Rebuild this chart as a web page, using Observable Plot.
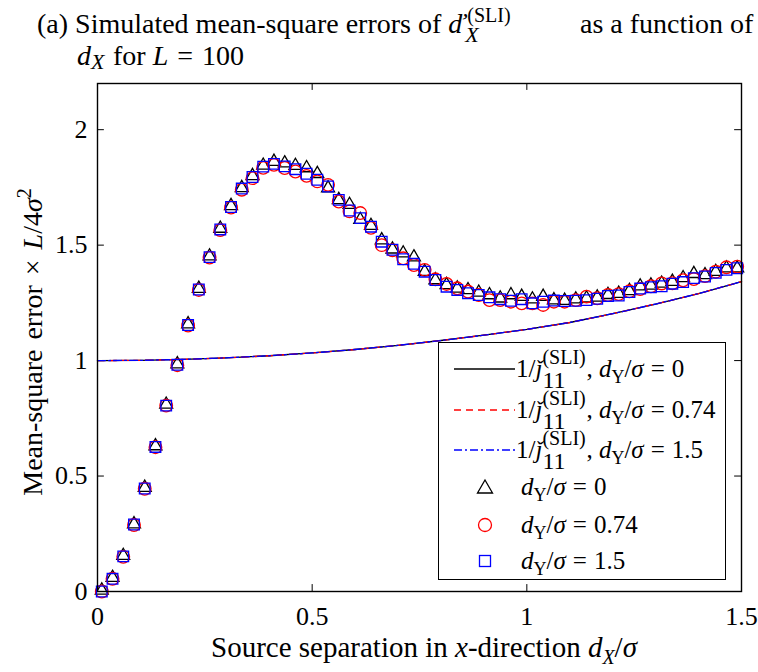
<!DOCTYPE html>
<html>
<head>
<meta charset="utf-8">
<script src="https://cdn.jsdelivr.net/npm/d3@7"></script>
<script src="https://cdn.jsdelivr.net/npm/@observablehq/plot@0.6"></script>
<style>
  body { margin: 0; background: white; }
  #wrap { position: relative; width: 758px; height: 672px; font-family: "Liberation Serif", serif; color: black; overflow: hidden; }
  .abs { position: absolute; white-space: nowrap; }
  .stk { display: inline-block; position: relative; vertical-align: baseline; }
  .stk > span { position: absolute; left: 0; line-height: 0.8; }
  .legrow { position: absolute; height: 40px; display: flex; align-items: center; white-space: nowrap; font-size: 25px; line-height: 40px; }
  .eq { margin: 0 7px; }
  i { font-style: italic; }
</style>
</head>
<body>
<div id="wrap">
  <div class="abs" style="left:37px; top:7px; font-size:28px; line-height:34px;">(a) Simulated mean-square errors of <i>d&#x030C;</i><span class="stk" style="width:60px; height:20px;"><span style="top:-6px; left:2px; font-size:20px;">(SLI)</span><span style="top:13px; font-size:22px;"><i>X</i></span></span></div>
  <div class="abs" style="left:580px; top:7px; font-size:28px; line-height:34px;">as a function of</div>
  <div class="abs" style="left:77px; top:39px; font-size:28px; line-height:34px;"><i>d</i><span class="stk" style="width:22px; height:20px;"><span style="top:8px; font-size:22px;"><i>X</i></span></span>for <i>L</i><span class="eq" style="margin:0 9px;">=</span>100</div>
  <div id="chart" style="position:absolute; left:0; top:75px;"></div>
  <div class="abs" style="left:31px; top:342px; font-size:28px; word-spacing:3px; transform: translate(-50%,-50%) rotate(-90deg);">Mean-square error &times; <i>L</i>/4<i>&sigma;</i><sup style="font-size:20px;">2</sup></div>
  <div class="abs" style="left:424px; top:650px; font-size:29px; transform: translate(-50%,-50%);">Source separation in <i>x</i>-direction <i>d</i><sub style="font-size:20px;"><i>X</i></sub>/<i>&sigma;</i></div>
  <div id="legend" class="abs" style="left:438px; top:342px; width:286px; height:236px; border:1.4px solid black; background:white;"></div>
</div>
<script>
// ---- data ----
const sepX = [0.010,0.035,0.060,0.085,0.110,0.135,0.160,0.186,0.211,0.236,
              0.261,0.286,0.311,0.336,0.361,0.386,0.411,0.436,0.461,0.487,
              0.512,0.537,0.562,0.587,0.612,0.637,0.662,0.687,0.712,0.737,
              0.762,0.787,0.813,0.838,0.863,0.888,0.913,0.938,0.963,0.988,
              1.013,1.038,1.063,1.088,1.114,1.139,1.164,1.189,1.214,1.239,
              1.264,1.289,1.314,1.339,1.364,1.389,1.415,1.440,1.465,1.490];
const mseDy0 =   [0.005,0.060,0.155,0.292,0.450,0.630,0.810,0.985,1.158,1.312,
                  1.452,1.572,1.670,1.748,1.800,1.845,1.862,1.855,1.844,1.834,
                  1.809,1.747,1.696,1.675,1.610,1.584,1.522,1.482,1.465,1.448,
                  1.385,1.349,1.328,1.313,1.306,1.295,1.284,1.270,1.284,1.277,
                  1.266,1.277,1.262,1.260,1.266,1.270,1.274,1.285,1.290,1.302,
                  1.322,1.326,1.334,1.342,1.358,1.376,1.371,1.385,1.400,1.400];
const mseDy074 = [0.000,0.055,0.150,0.288,0.445,0.625,0.805,0.980,1.152,1.306,
                  1.446,1.565,1.663,1.740,1.790,1.835,1.848,1.834,1.819,1.800,
                  1.776,1.761,1.689,1.646,1.639,1.575,1.500,1.478,1.443,1.414,
                  1.393,1.352,1.332,1.313,1.299,1.284,1.262,1.262,1.255,1.248,
                  1.248,1.241,1.255,1.255,1.262,1.277,1.270,1.284,1.288,1.300,
                  1.310,1.322,1.334,1.335,1.348,1.353,1.366,1.385,1.404,1.407];
const mseDy15 =  [0.000,0.055,0.152,0.290,0.446,0.626,0.805,0.982,1.154,1.308,
                  1.448,1.568,1.665,1.745,1.795,1.840,1.852,1.841,1.829,1.809,
                  1.783,1.754,1.696,1.650,1.617,1.580,1.515,1.480,1.439,1.419,
                  1.385,1.349,1.320,1.306,1.292,1.284,1.274,1.266,1.259,1.266,
                  1.248,1.255,1.260,1.258,1.259,1.262,1.268,1.280,1.282,1.297,
                  1.312,1.318,1.322,1.333,1.340,1.357,1.364,1.380,1.393,1.400];
const curveX =     [0,0.1,0.2,0.3,0.4,0.5,0.6,0.7,0.8,0.9,1.0,1.1,1.2,1.3,1.4,1.5];
const curveDy0 =   [1.000,1.001,1.005,1.012,1.021,1.033,1.048,1.066,1.087,1.110,1.135,1.165,1.203,1.245,1.290,1.342];
const curveDy074 = [1.000,1.001,1.005,1.012,1.021,1.033,1.048,1.066,1.087,1.110,1.135,1.165,1.203,1.245,1.290,1.342];
const curveDy15 =  [1.000,1.001,1.005,1.012,1.021,1.033,1.048,1.066,1.087,1.110,1.135,1.165,1.203,1.245,1.290,1.342];
const xTicks = [0, 0.5, 1, 1.5];
const yTicks = [0, 0.5, 1, 1.5, 2];
const legendDy = ["0", "0.74", "1.5"];

// ---- tables ----
const pts = (ys) => sepX.map((x, i) => ({x, y: ys[i]}));
const crv = (ys) => curveX.map((x, i) => ({x, y: ys[i]}));
const FONT = "'Liberation Serif', serif";

const chart = Plot.plot({
  width: 758,
  height: 597,
  marginTop: 8,
  marginBottom: 81,
  marginLeft: 97,
  marginRight: 17,
  x: {domain: [0, 1.5]},
  y: {domain: [0, 2.2]},
  style: {fontFamily: FONT, fontSize: "26px", color: "black", background: "white", overflow: "visible"},
  marks: [
    Plot.ruleX(xTicks, {x: d => d, y1: 0, y2: 0.03, stroke: "black", strokeWidth: 1}),
    Plot.ruleX(xTicks, {x: d => d, y1: 2.17, y2: 2.2, stroke: "black", strokeWidth: 1}),
    Plot.ruleY(yTicks, {y: d => d, x1: 0, x2: 0.016, stroke: "black", strokeWidth: 1}),
    Plot.ruleY(yTicks, {y: d => d, x1: 1.484, x2: 1.5, stroke: "black", strokeWidth: 1}),
    Plot.line(crv(curveDy0), {x: "x", y: "y", stroke: "black", strokeWidth: 1.3}),
    Plot.line(crv(curveDy074), {x: "x", y: "y", stroke: "#ff0000", strokeWidth: 1.3, strokeDasharray: "7,5"}),
    Plot.line(crv(curveDy15), {x: "x", y: "y", stroke: "#0000ff", strokeWidth: 1.3, strokeDasharray: "8,3,2,3"}),
    Plot.dot(pts(mseDy0), {x: "x", y: "y", symbol: "triangle", r: 4.8, stroke: "black", strokeWidth: 1.3, fill: "none"}),
    Plot.dot(pts(mseDy074), {x: "x", y: "y", symbol: "circle", r: 6.3, stroke: "#ff0000", strokeWidth: 1.3, fill: "none"}),
    Plot.dot(pts(mseDy15), {x: "x", y: "y", symbol: "square", r: 6.0, stroke: "#0000ff", strokeWidth: 1.3, fill: "none"}),
    Plot.frame({stroke: "black", strokeWidth: 1.4}),
    Plot.axisX(xTicks, {tickSize: 0, tickPadding: 15, fontSize: 26, tickFormat: d => String(d), label: null}),
    Plot.axisY(yTicks, {tickSize: 0, tickPadding: 10, fontSize: 26, tickFormat: d => String(d), label: null})
  ]
});
document.getElementById("chart").appendChild(chart);

// ---- legend ----
const legend = document.getElementById("legend");
const dyLabel = (v) => `<i>d</i><span class="stk" style="width:13px; height:18px;"><span style="top:11px; font-size:18px;">Y</span></span>/<i>&sigma;</i><span class="eq">=</span>${v}`;
const lineStyles = [
  {stroke: "black", dash: "none", cy: 26},
  {stroke: "#ff0000", dash: "7,5", cy: 67},
  {stroke: "#0000ff", dash: "8,3,2,3", cy: 107}
];
lineStyles.forEach((e, i) => {
  const row = document.createElement("div");
  row.className = "legrow";
  row.style.left = "0px";
  row.style.top = (e.cy - 20) + "px";
  row.innerHTML = `<svg width="77" height="40" style="flex:none"><line x1="15" x2="76" y1="20" y2="20" stroke="${e.stroke}" stroke-width="1.3" stroke-dasharray="${e.dash}"/></svg>` +
    `<span>1/<i>&#x01F0;</i><span class="stk" style="width:44px; height:20px;"><span style="top:-8px; font-size:20px;">(SLI)</span><span style="top:13.5px; font-size:24px;">11</span></span>, ${dyLabel(legendDy[i])}</span>`;
  legend.appendChild(row);
});
const symbols = [
  `<path d="M0,-7L7.5,6L-7.5,6Z" fill="none" stroke="black" stroke-width="1.3"/>`,
  `<circle r="6.5" fill="none" stroke="#ff0000" stroke-width="1.3"/>`,
  `<rect x="-5.5" y="-5.5" width="11" height="11" fill="none" stroke="#0000ff" stroke-width="1.3"/>`
];
const symCy = [144, 182, 218];
symbols.forEach((s, i) => {
  const row = document.createElement("div");
  row.className = "legrow";
  row.style.left = "0px";
  row.style.top = (symCy[i] - 20) + "px";
  row.innerHTML = `<svg width="82" height="40" style="flex:none"><g transform="translate(46,20)">${s}</g></svg><span>${dyLabel(legendDy[i])}</span>`;
  legend.appendChild(row);
});
</script>
</body>
</html>
